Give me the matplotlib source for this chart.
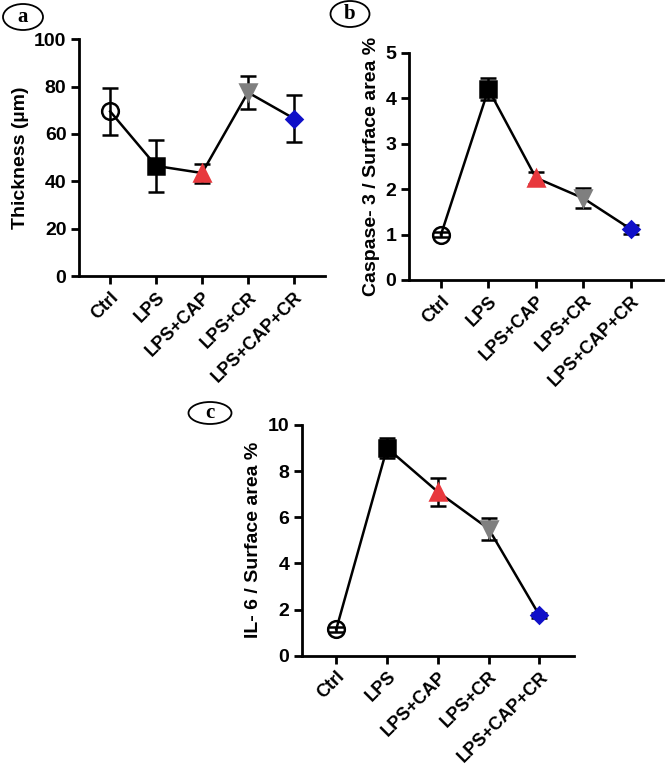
import matplotlib.pyplot as plt
from matplotlib.patches import Ellipse

# =============================================================================
# Data
# =============================================================================

groups = ["Ctrl", "LPS", "LPS+CAP", "LPS+CR", "LPS+CAP+CR"]

thickness_mean = [69.5, 46.5, 43.5, 77.5, 66.5]
thickness_err = [10.0, 11.0, 4.0, 7.0, 10.0]

caspase_mean = [1.0, 4.2, 2.25, 1.8, 1.12]
caspase_err = [0.05, 0.24, 0.13, 0.22, 0.1]

il6_mean = [1.15, 9.0, 7.1, 5.5, 1.75]
il6_err = [0.1, 0.45, 0.62, 0.48, 0.1]

# marker style per group
markers = ["o", "s", "^", "v", "D"]
face_colors = ["none", "black", "#e8383d", "#7f7f7f", "#1010c8"]
edge_colors = ["black", "black", "#e8383d", "#7f7f7f", "#1010c8"]
marker_sizes = [12, 11, 11, 11, 8]

FONT = "Liberation Sans"


def draw_panel(ax, means, errs, ylabel, ylim, yticks):
    x = list(range(len(groups)))
    ax.plot(x, means, color="black", lw=1.8, zorder=2)
    for i in x:
        ax.errorbar(i, means[i], yerr=errs[i], fmt="none", ecolor="black",
                    elinewidth=1.8, capsize=6, capthick=1.8, zorder=3)
        ax.plot(i, means[i], marker=markers[i], ms=marker_sizes[i],
                mfc=face_colors[i], mec=edge_colors[i], mew=1.8, zorder=4)

    ax.set_xlim(-0.68, 4.68)
    ax.set_ylim(*ylim)
    ax.set_yticks(yticks)
    ax.set_xticks(x)
    ax.set_xticklabels(groups, rotation=45, ha="right", rotation_mode="anchor",
                       fontsize=13, fontweight="bold", family=FONT)
    for lab in ax.get_yticklabels():
        lab.set_fontsize(14)
        lab.set_fontweight("bold")
        lab.set_family(FONT)
    ax.set_ylabel(ylabel, fontsize=14, fontweight="bold", family=FONT,
                  labelpad=4)

    for side in ("top", "right"):
        ax.spines[side].set_visible(False)
    for side in ("left", "bottom"):
        ax.spines[side].set_linewidth(2)
    ax.tick_params(width=2, length=6, direction="out", pad=3)


def panel_tag(fig, cx, cy, w, h, letter):
    fig.add_artist(Ellipse((cx, cy), w, h, transform=fig.transFigure,
                           fill=False, lw=1.3, edgecolor="black"))
    fig.text(cx, cy, letter, ha="center", va="center", fontsize=15,
             fontweight="bold", family="Liberation Serif")


fig = plt.figure(figsize=(6.69, 7.67), dpi=100)

ax_a = fig.add_axes([0.118, 0.640, 0.368, 0.309])
draw_panel(ax_a, thickness_mean, thickness_err, "Thickness (µm)",
           (0, 100), [0, 20, 40, 60, 80, 100])

ax_b = fig.add_axes([0.611, 0.635, 0.380, 0.296])
draw_panel(ax_b, caspase_mean, caspase_err, "Caspase- 3 / Surface area %",
           (0, 5), [0, 1, 2, 3, 4, 5])

ax_c = fig.add_axes([0.451, 0.145, 0.407, 0.301])
draw_panel(ax_c, il6_mean, il6_err, "IL- 6 / Surface area %",
           (0, 10), [0, 2, 4, 6, 8, 10])

panel_tag(fig, 23 / 669, 1 - 17 / 767, 40 / 669, 26 / 767, "a")
panel_tag(fig, 350 / 669, 1 - 14 / 767, 39 / 669, 26 / 767, "b")
panel_tag(fig, 210 / 669, 1 - 413 / 767, 43 / 669, 22 / 767, "c")

fig.savefig("out.png", dpi=100)
